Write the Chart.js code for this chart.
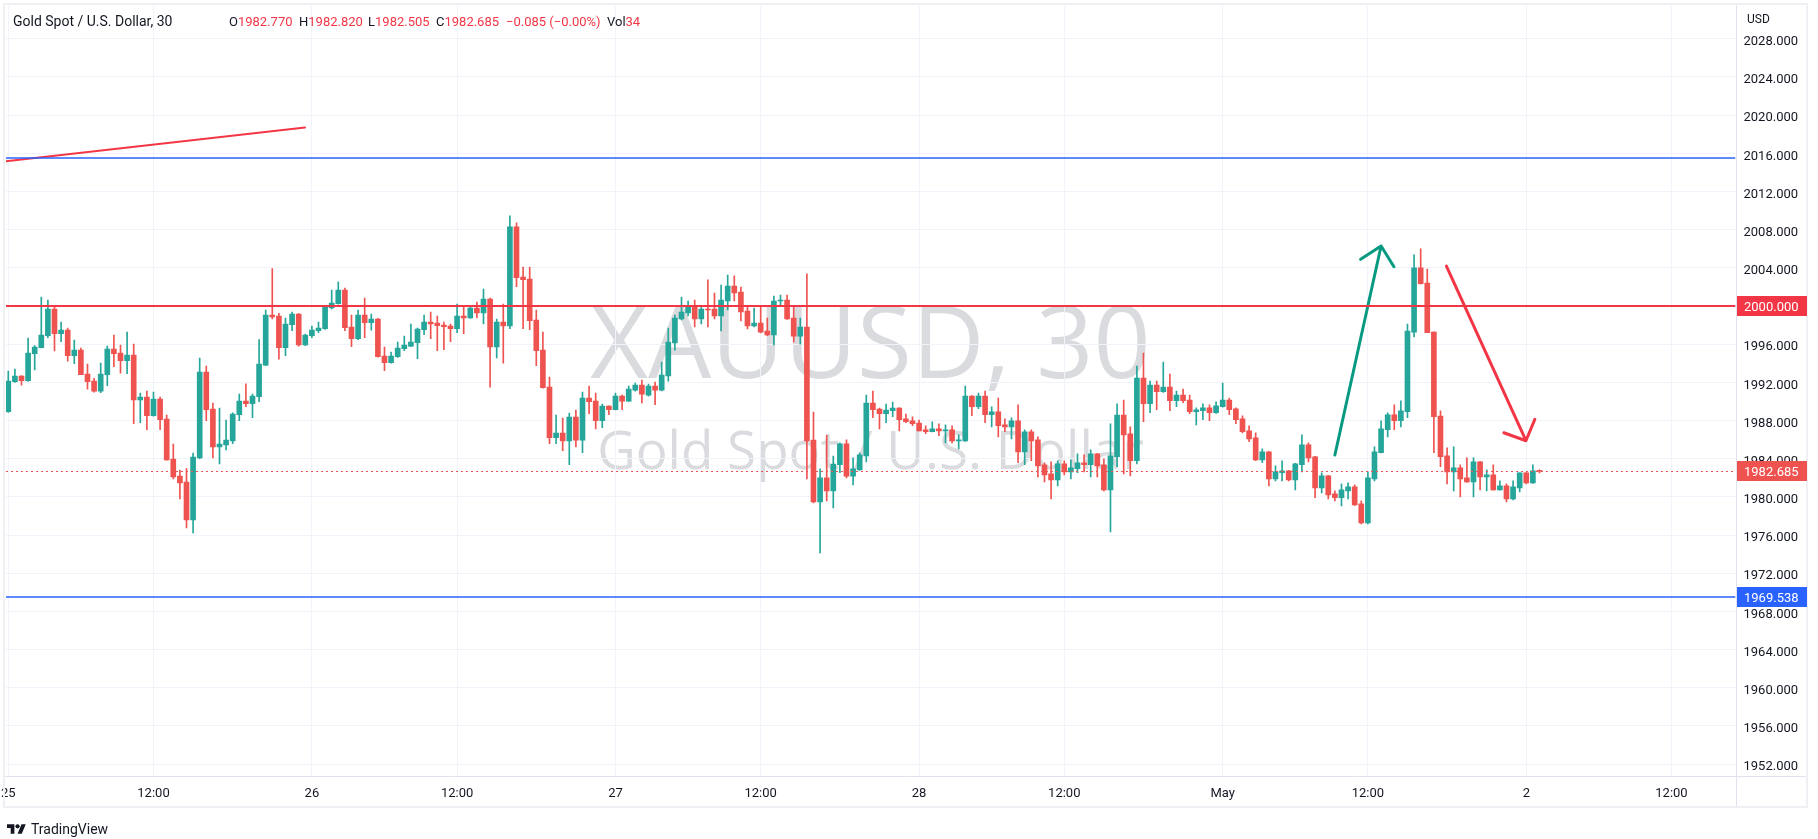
<!DOCTYPE html>
<html>
<head>
<meta charset="utf-8">
<title>XAUUSD 30</title>
<script src="https://cdn.jsdelivr.net/npm/chart.js@4.4.1/dist/chart.umd.min.js"></script>
<style>
html, body { margin:0; padding:0; background:#fff; }
#wrap { position:relative; width:1818px; height:839px; overflow:hidden; font-family:Roboto, sans-serif; color:#131722; }
#chart { position:absolute; left:0; top:0; }
.wm { position:absolute; left:6px; width:1729px; text-align:center; color:#dadbde; font-family:"Open Sans", sans-serif; line-height:1; white-space:nowrap; }
.hd { position:absolute; top:14px; font-size:13px; line-height:16px; white-space:nowrap; }
.rd { color:#f23645; }
#usd { position:absolute; left:1747px; top:12px; font-size:12px; line-height:15px; }
#logo { position:absolute; left:7px; top:821px; font-size:14px; line-height:16px; display:flex; align-items:center; gap:5px; }
</style>
</head>
<body>
<div id="wrap">
  <div class="wm" style="top:289px;font-size:100px">XAUUSD, 30</div>
  <div class="wm" style="top:422px;font-size:53px">Gold Spot / U.S. Dollar</div>
  <canvas id="chart" width="1818" height="839"></canvas>
  <div class="hd" style="left:13px;font-size:14px;top:13px">Gold Spot / U.S. Dollar, 30</div>
  <div class="hd" style="left:229px">O<span class="rd">1982.770</span></div>
  <div class="hd" style="left:299px">H<span class="rd">1982.820</span></div>
  <div class="hd" style="left:368px">L<span class="rd">1982.505</span></div>
  <div class="hd" style="left:436px">C<span class="rd">1982.685</span></div>
  <div class="hd rd" style="left:506px">−0.085 (−0.00%)</div>
  <div class="hd" style="left:607px">Vol<span class="rd">34</span></div>
  <div id="usd">USD</div>
  <div id="logo">
    <svg width="19" height="14" viewBox="0 0 36 26"><path d="M14 22H7V11H0V4h14v18zM28 22h-8l7.5-18h8L28 22z" fill="#131722"/><circle cx="20" cy="8" r="4" fill="#131722"/></svg>
    <span>TradingView</span>
  </div>
</div>
<script>
// 30 min candles, XAUUSD, Apr 25 -> May 2
const opens = [1988.92,1992.06,1992.66,1992.17,1995.00,1995.63,1996.89,1999.69,1997.10,1997.48,1994.79,1995.38,1992.87,1992.13,1991.08,1992.80,1995.49,1995.07,1994.27,1994.86,
1990.17,1990.45,1988.50,1990.24,1988.15,1983.95,1982.17,1981.54,1977.59,1984.09,1993.08,1989.20,1985.24,1985.45,1985.87,1988.60,1990.03,1989.76,1990.49,1993.81,
1999.06,1998.95,1995.63,1998.04,1999.16,1995.91,1996.89,1997.41,1997.62,1999.79,2000.24,2001.68,1997.80,1996.57,1999.06,1998.25,1998.64,1994.76,1994.06,1994.69,
1995.52,1995.80,1996.15,1997.52,1998.32,1998.22,1998.01,1997.90,1997.62,1998.95,1998.74,1999.79,1999.27,2000.73,1995.70,1998.32,1997.90,2008.29,2003.04,2002.83,
1998.53,1995.38,1991.50,1986.19,1986.68,1985.87,1988.36,1985.94,1990.35,1990.03,1987.97,1989.51,1989.13,1990.56,1990.03,1991.19,1991.71,1990.66,1991.61,1991.19,
1992.66,1996.12,1998.64,1999.27,2000.00,1998.64,1999.69,1999.69,1998.95,2000.52,2002.10,2001.47,1999.48,1997.90,1998.22,1997.38,1996.96,2000.52,2000.63,1998.74,
1996.85,1997.80,1985.94,1979.48,1981.99,1980.63,1983.36,1985.56,1982.17,1982.83,1984.30,1989.83,1989.20,1988.71,1989.02,1989.30,1988.18,1987.97,1987.73,1987.03,
1986.82,1987.13,1986.92,1987.03,1985.87,1985.87,1990.56,1989.44,1990.56,1988.60,1988.92,1987.55,1987.34,1987.97,1984.72,1986.82,1985.98,1983.36,1982.41,1981.78,
1983.46,1982.62,1982.94,1983.57,1983.36,1984.51,1983.36,1980.73,1984.20,1988.57,1986.61,1983.78,1992.45,1989.76,1991.71,1991.01,1991.50,1990.07,1990.66,1990.14,
1988.92,1989.02,1989.34,1988.81,1989.44,1990.14,1989.23,1988.18,1986.92,1986.19,1983.88,1984.72,1981.89,1982.52,1982.73,1981.78,1983.36,1985.45,1984.20,1980.94,
1982.20,1980.31,1979.90,1980.63,1981.05,1979.27,1977.27,1981.89,1984.62,1987.03,1988.60,1987.97,1988.92,1997.27,2003.99,2002.41,1997.27,1988.46,1984.30,1982.62,
1983.04,1981.99,1981.57,1983.67,1982.10,1982.31,1980.73,1981.15,1979.79,1980.94,1982.52,1981.47,1982.77];
const highs = [1993.18,1993.39,1992.70,1996.64,1995.84,2000.94,2000.63,1999.93,1998.32,1997.69,1996.43,1995.59,1993.92,1992.41,1994.02,1995.80,1996.96,1995.91,1997.27,1996.01,
1990.87,1991.08,1990.98,1990.45,1988.57,1985.52,1982.80,1982.97,1984.58,1994.55,1993.71,1989.83,1989.30,1988.04,1988.81,1990.77,1991.85,1990.77,1996.47,1999.58,
2003.92,1999.23,1998.74,1999.37,1999.20,1997.06,1997.90,1998.32,2000.00,2001.68,2002.52,2001.89,1999.06,1999.58,2000.84,1999.16,1998.70,1995.70,1995.17,1996.22,
1996.85,1998.11,1997.69,1999.06,1999.37,1998.95,1998.32,1998.11,2000.21,2000.00,2000.00,2000.42,2001.78,2000.84,1998.64,2000.21,2009.44,2008.71,2004.09,2004.09,
1999.58,1997.27,1992.55,1988.57,1988.25,1988.78,1989.09,1990.98,1991.61,1990.87,1989.72,1989.55,1990.87,1990.66,1991.61,1991.92,1992.24,1991.82,1992.03,1994.13,
1997.69,1999.06,2000.94,2000.52,2000.63,2000.00,2002.73,2001.36,2002.20,2003.25,2003.15,2001.99,1999.90,1999.79,1999.90,1998.74,2001.05,2001.15,2001.15,1999.90,
1998.74,2003.36,1988.88,1982.94,1986.47,1984.27,1985.66,1985.98,1984.09,1984.62,1990.66,1991.08,1989.30,1989.72,1989.93,1989.35,1988.67,1988.39,1988.04,1987.45,
1987.87,1987.66,1987.55,1987.45,1986.50,1991.61,1990.60,1990.87,1991.08,1989.44,1990.35,1988.18,1988.29,1989.65,1987.03,1987.03,1986.29,1983.57,1983.67,1983.78,
1983.78,1983.88,1984.51,1984.41,1984.93,1984.55,1983.99,1987.66,1989.76,1990.14,1987.34,1993.71,1995.07,1992.13,1992.13,1994.13,1992.87,1991.08,1991.29,1990.66,
1989.34,1989.76,1989.65,1989.97,1991.92,1990.35,1989.34,1988.50,1987.45,1986.71,1985.03,1984.75,1983.25,1983.78,1982.78,1983.50,1986.50,1985.66,1984.25,1982.52,
1982.25,1980.63,1981.36,1981.47,1981.26,1979.58,1982.62,1985.24,1987.97,1988.81,1989.65,1990.07,1998.11,2005.35,2005.98,2003.88,1997.30,1989.02,1985.14,1985.24,
1983.36,1984.09,1984.09,1983.70,1982.83,1983.36,1981.68,1981.36,1981.68,1982.52,1982.55,1983.36,1982.82];
const lows = [1988.85,1992.00,1991.71,1992.10,1993.29,1995.60,1996.68,1995.28,1996.26,1994.23,1993.95,1992.80,1991.29,1990.98,1990.91,1991.64,1993.64,1992.97,1992.90,1987.66,
1987.76,1987.03,1988.45,1987.03,1983.85,1981.89,1979.79,1976.75,1976.22,1984.00,1987.97,1984.09,1983.46,1984.93,1985.56,1987.97,1989.44,1988.29,1989.97,1993.74,
1998.64,1994.44,1994.79,1997.41,1995.80,1995.85,1996.68,1997.20,1997.55,1999.69,2000.20,1997.41,1995.73,1996.47,1996.68,1997.48,1994.65,1993.22,1994.00,1994.60,
1995.31,1995.73,1994.48,1996.99,1996.57,1995.31,1995.42,1996.26,1997.20,1997.10,1998.70,1998.74,1998.11,1991.50,1994.55,1994.02,1997.62,2002.03,1997.62,1997.52,
1993.74,1991.40,1985.56,1985.56,1984.83,1983.36,1985.24,1984.62,1988.71,1987.13,1987.24,1988.60,1989.10,1989.13,1990.00,1991.08,1989.83,1990.56,1989.65,1991.10,
1992.13,1995.38,1998.53,1998.95,1997.80,1998.11,1997.80,1998.64,1997.38,1999.58,2000.52,1998.43,1997.59,1997.80,1997.17,1996.90,1995.91,2000.10,1998.60,1996.22,
1996.01,1981.89,1979.37,1974.13,1979.58,1978.85,1982.52,1981.99,1981.26,1982.80,1983.67,1988.29,1987.13,1987.76,1988.39,1986.92,1987.76,1987.45,1986.90,1986.61,
1986.80,1986.40,1985.66,1985.66,1985.03,1985.80,1988.50,1989.23,1987.76,1987.34,1986.29,1986.82,1986.08,1983.57,1983.36,1983.78,1982.10,1981.57,1979.79,1981.15,
1982.31,1981.89,1982.52,1982.62,1982.10,1982.10,1980.63,1976.33,1983.15,1982.41,1982.20,1983.46,1987.87,1988.81,1989.13,1990.95,1989.02,1989.44,1989.86,1988.71,
1987.55,1988.08,1987.97,1988.75,1989.40,1988.60,1987.66,1986.71,1985.77,1983.78,1983.57,1981.15,1981.68,1981.68,1981.68,1980.73,1982.62,1983.67,1979.90,1980.42,
1979.79,1979.58,1979.06,1979.79,1979.10,1977.17,1977.17,1981.68,1984.60,1986.29,1987.03,1987.34,1988.29,1996.75,2002.30,1997.20,1984.62,1983.15,1981.36,1980.63,
1980.00,1981.50,1980.00,1980.73,1980.63,1980.70,1980.70,1979.48,1979.69,1980.52,1981.36,1981.40,1982.505];
const closes = [1992.13,1992.66,1992.17,1995.07,1995.70,1996.96,1999.69,1997.10,1997.48,1994.79,1995.38,1992.80,1992.06,1991.08,1992.87,1995.49,1995.00,1994.27,1994.86,1990.17,
1990.45,1988.50,1990.24,1988.08,1983.88,1982.10,1981.47,1977.59,1984.16,1993.08,1989.13,1985.24,1985.52,1985.94,1988.67,1990.03,1989.76,1990.56,1993.92,1999.06,
1998.85,1995.63,1998.11,1999.16,1995.91,1996.96,1997.48,1997.69,2000.00,2000.31,2001.68,1997.73,1996.57,1999.06,1998.25,1998.64,1994.69,1994.06,1994.76,1995.59,
1995.91,1996.22,1997.59,1998.32,1998.11,1997.94,1997.83,1997.62,1998.95,1998.74,1999.79,1999.27,2000.73,1995.70,1998.32,1997.90,2008.29,2002.97,2002.76,1998.46,
1995.31,1991.43,1986.19,1986.68,1985.87,1988.36,1985.94,1990.35,1989.97,1987.97,1989.51,1989.13,1990.56,1990.03,1991.29,1991.71,1990.77,1991.61,1991.19,1992.76,
1996.22,1998.74,1999.37,1999.90,1998.64,1999.69,1999.58,1998.95,2000.63,2002.10,2001.36,1999.37,1997.90,1998.22,1997.27,1996.96,2000.52,2000.63,1998.64,1996.85,
1997.80,1985.87,1979.48,1981.99,1980.63,1983.43,1985.56,1982.17,1982.94,1984.41,1989.83,1989.13,1988.71,1989.09,1989.30,1988.08,1987.87,1987.66,1986.92,1986.82,
1987.13,1986.92,1987.03,1985.87,1985.98,1990.56,1989.44,1990.56,1988.60,1988.92,1987.45,1987.34,1987.97,1984.72,1986.82,1985.87,1983.25,1982.31,1981.78,1983.46,
1982.62,1983.04,1983.57,1983.36,1984.51,1983.25,1980.73,1984.30,1988.57,1986.50,1983.78,1992.45,1989.76,1991.71,1991.01,1991.50,1990.07,1990.66,1990.07,1988.92,
1989.13,1989.34,1988.81,1989.55,1990.14,1989.13,1988.08,1986.82,1986.08,1983.88,1984.72,1981.89,1982.62,1982.73,1981.78,1983.46,1985.45,1984.09,1980.94,1982.20,
1980.21,1979.90,1980.73,1981.05,1979.16,1977.27,1981.99,1984.72,1987.13,1988.60,1987.97,1989.02,1997.38,2003.99,2002.34,1997.20,1988.39,1984.20,1982.62,1983.04,
1981.89,1981.57,1983.67,1982.10,1982.31,1980.73,1981.15,1979.79,1981.05,1982.52,1981.47,1982.73,1982.685];

// time axis: candle index of each label
const xTickIdx = [0, 22, 46, 68, 92, 114, 138, 160, 184, 206, 230, 252];
const xTickLabels = ['25', '12:00', '26', '12:00', '27', '12:00', '28', '12:00', 'May', '12:00', '2', '12:00'];
const yTicks = [1952, 1956, 1960, 1964, 1968, 1972, 1976, 1980, 1984, 1988, 1992, 1996, 2000, 2004, 2008, 2012, 2016, 2020, 2024, 2028];

// horizontal levels: upper blue, red 2000, lower blue
const levels = [2015.55, 2000.0, 1969.538];

// drawings (candle index / price)
const trendX = [-0.38, 44.95];
const trendY = [2015.17, 2018.71];
const upArrowX = [201.0, 208.0, 204.9, 208.0, 209.95];
const upArrowY = [1984.38, 2006.29, 2004.89, 2006.29, 2004.12];
const downArrowX = [217.9, 229.95, 226.6, 229.95, 231.3];
const downArrowY = [2004.19, 1985.88, 1986.72, 1985.88, 1988.13];

const UP = '#26a69a', DOWN = '#ef5350';
const levelColors = ['#2962ff', '#f23645', '#2962ff'];
const levelWidths = [1.5, 2, 1.5];

const lastClose = closes[closes.length - 1];
const candleColors = opens.map((o, i) => closes[i] >= o ? UP : DOWN);
const bodies = opens.map((o, i) => ({x: i, y: [o, closes[i]]}));
const wicks = opens.map((o, i) => ({x: i, y: [lows[i], highs[i]]}));
const pts = (xs, ys) => xs.map((x, i) => ({x: x, y: ys[i]}));

Chart.defaults.font.family = 'Roboto';
Chart.defaults.font.size = 13;
Chart.defaults.color = '#131722';

const overlay = {
  id: 'overlay',
  afterDatasetsDraw(chart) {
    const {ctx, chartArea: a, scales: {y}} = chart;
    ctx.save();
    ctx.beginPath();
    ctx.rect(a.left, a.top, a.right - a.left, a.bottom - a.top);
    ctx.clip();
    // last price dotted line
    const py = Math.round(y.getPixelForValue(lastClose)) + 0.5;
    ctx.strokeStyle = DOWN;
    ctx.lineWidth = 1;
    ctx.setLineDash([2, 3]);
    ctx.beginPath(); ctx.moveTo(a.left, py); ctx.lineTo(a.right, py); ctx.stroke();
    ctx.setLineDash([]);
    levels.forEach((v, k) => {
      const yy = Math.round(y.getPixelForValue(v));
      ctx.strokeStyle = levelColors[k];
      ctx.lineWidth = levelWidths[k];
      ctx.beginPath(); ctx.moveTo(a.left, yy); ctx.lineTo(a.right, yy); ctx.stroke();
    });
    ctx.restore();
  },
  afterDraw(chart) {
    const {ctx, chartArea: a, scales: {y}} = chart;
    ctx.save();
    // separators between panes
    ctx.strokeStyle = '#e0e3eb';
    ctx.lineWidth = 1;
    ctx.beginPath();
    ctx.moveTo(Math.round(a.right) + 0.5, 5); ctx.lineTo(Math.round(a.right) + 0.5, 806);
    ctx.moveTo(5, Math.round(a.bottom) + 0.5); ctx.lineTo(1806, Math.round(a.bottom) + 0.5);
    ctx.stroke();
    // outer frame
    ctx.strokeStyle = '#eef0f4';
    ctx.lineWidth = 2;
    ctx.strokeRect(4, 4, 1803, 803);
    // price tags on the axis
    const tags = [[levels[1], '#f23645'], [lastClose, DOWN], [levels[2], '#2962ff']];
    ctx.font = '13px Roboto';
    ctx.textBaseline = 'middle';
    tags.forEach(([v, c]) => {
      const yy = Math.round(y.getPixelForValue(v));
      ctx.fillStyle = c;
      ctx.fillRect(Math.round(a.right) + 1, yy - 10, 70, 20);
      ctx.fillStyle = '#fff';
      ctx.fillText(v.toFixed(3), Math.round(a.right) + 8, yy + 2);
    });
    ctx.restore();
  }
};

const lineDs = (xs, ys, color, w) => ({
  type: 'line', data: pts(xs, ys), borderColor: color, borderWidth: w,
  pointRadius: 0, tension: 0, borderCapStyle: 'round', borderJoinStyle: 'round', order: 0
});

new Chart(document.getElementById('chart'), {
  type: 'bar',
  data: {
    datasets: [
      lineDs(trendX, trendY, '#f23645', 2),
      lineDs(upArrowX, upArrowY, '#089981', 3),
      lineDs(downArrowX, downArrowY, '#f23645', 3),
      { data: bodies, backgroundColor: candleColors, barThickness: 5, minBarLength: 1, grouped: false, order: 2 },
      { data: wicks, backgroundColor: candleColors, barThickness: 1, grouped: false, order: 3 }
    ]
  },
  options: {
    responsive: false,
    animation: false,
    layout: { padding: { left: 6, top: 6, right: 11, bottom: 33 } },
    plugins: { legend: { display: false }, tooltip: { enabled: false } },
    scales: {
      x: {
        type: 'linear', min: -0.348, max: 261.7, offset: false,
        grid: { color: '#f0f3fa', drawTicks: false, offset: false },
        border: { display: false },
        ticks: { autoSkip: false, maxRotation: 0, padding: 10, color: '#131722',
          callback: v => xTickLabels[xTickIdx.indexOf(v)] },
        afterBuildTicks: s => { s.ticks = xTickIdx.map(v => ({value: v})); },
        afterFit: s => { s.height = 30; s.paddingLeft = 0; s.paddingRight = 0; }
      },
      y: {
        type: 'linear', position: 'right', min: 1950.744, max: 2031.44,
        grid: { color: '#f0f3fa', drawTicks: false },
        border: { display: false },
        ticks: { padding: 8, labelOffset: 3, color: '#131722', callback: v => v.toFixed(3) },
        afterBuildTicks: s => { s.ticks = yTicks.map(v => ({value: v})); },
        afterFit: s => { s.width = 71.5; s.paddingTop = 0; s.paddingBottom = 0; }
      }
    }
  },
  plugins: [overlay]
});
</script>
</body>
</html>
